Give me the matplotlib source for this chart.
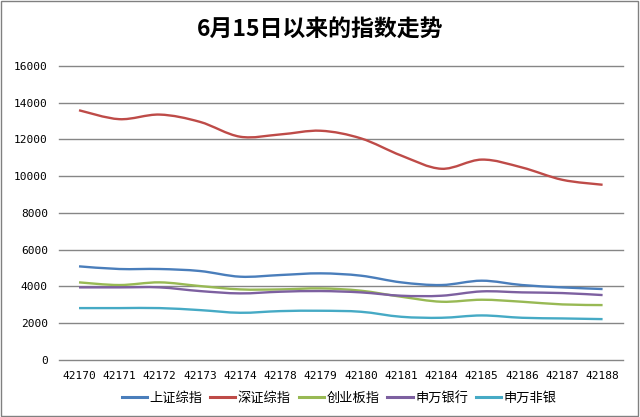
import numpy as np
import matplotlib.pyplot as plt
from matplotlib.path import Path
from matplotlib.patches import PathPatch, Rectangle
from matplotlib.lines import Line2D

plt.rcParams['font.family'] = ['Noto Sans CJK SC', 'DejaVu Sans']

# category labels (excel date serials)
dates = ['42170', '42171', '42172', '42173', '42174', '42178', '42179',
         '42180', '42181', '42184', '42185', '42186', '42187', '42188']

sh_comp = [5090, 4945, 4945, 4836, 4527, 4618, 4709, 4582, 4218, 4073, 4309, 4073, 3945, 3855]
sz_comp = [13585, 13100, 13350, 12955, 12145, 12270, 12470, 12055, 11120, 10400, 10900, 10470, 9800, 9530]
chinext = [4218, 4073, 4218, 4018, 3836, 3836, 3890, 3764, 3436, 3164, 3273, 3164, 3018, 2982]
sw_bank = [3945, 3945, 3945, 3745, 3618, 3709, 3745, 3673, 3491, 3491, 3727, 3673, 3636, 3527]
sw_nonbank = [2818, 2818, 2818, 2709, 2563, 2654, 2673, 2618, 2345, 2291, 2418, 2291, 2255, 2218]

names = ['上证综指', '深证综指', '创业板指', '申万银行', '申万非银']
series = [sh_comp, sz_comp, chinext, sw_bank, sw_nonbank]
colors = ['#4A7EBB', '#BE4B48', '#98B954', '#7D60A0', '#46AAC5']


def smooth_path(y):
    # excel style smoothed line: catmull-rom segments as cubic beziers
    pts = np.column_stack([np.arange(len(y)), y]).astype(float)
    p = np.vstack([pts[0], pts, pts[-1]])
    verts = [pts[0]]
    codes = [Path.MOVETO]
    for i in range(len(pts) - 1):
        p0, p1, p2, p3 = p[i], p[i + 1], p[i + 2], p[i + 3]
        verts += [p1 + (p2 - p0) / 6, p2 - (p3 - p1) / 6, p2]
        codes += [Path.CURVE4] * 3
    return Path(verts, codes)


fig = plt.figure(figsize=(6.4, 4.17), dpi=100)
ax = fig.add_axes([0.092, 0.137, 0.881, 0.705])

handles = []
for vals, name, c in zip(series, names, colors):
    ax.add_patch(PathPatch(smooth_path(vals), facecolor='none', edgecolor=c, lw=1.7))
    handles.append(Line2D([], [], color=c, lw=2.2, label=name))

ax.set_xlim(-0.5, len(dates) - 0.5)
ax.set_ylim(0, 16000)
ax.set_yticks(np.arange(0, 16001, 2000))
ax.set_xticks(np.arange(len(dates)))
ax.set_xticklabels(dates)
ax.tick_params(length=0, labelsize=8)
ax.tick_params(axis='y', pad=8)
ax.tick_params(axis='x', pad=8)
for lab in ax.get_xticklabels() + ax.get_yticklabels():
    lab.set_family('DejaVu Sans Mono')
ax.grid(axis='y', color='#868686', lw=1)
for gl in ax.yaxis.get_gridlines():
    gl.set_clip_on(False)
ax.set_axisbelow(True)
for s in ax.spines.values():
    s.set_visible(False)

fig.suptitle('6月15日以来的指数走势', y=0.955, fontsize=16.5, fontweight='bold')
fig.legend(handles=handles, loc='center', bbox_to_anchor=(0.53, 0.045), ncol=5,
           frameon=False, fontsize=9.5, handlelength=1.9, columnspacing=0.6,
           handletextpad=0.2)

fig.patches.append(Rectangle((0.002, 0.003), 0.995, 0.994, transform=fig.transFigure,
                             fill=False, edgecolor='#808080', lw=1))

fig.savefig('out.png', dpi=100)
